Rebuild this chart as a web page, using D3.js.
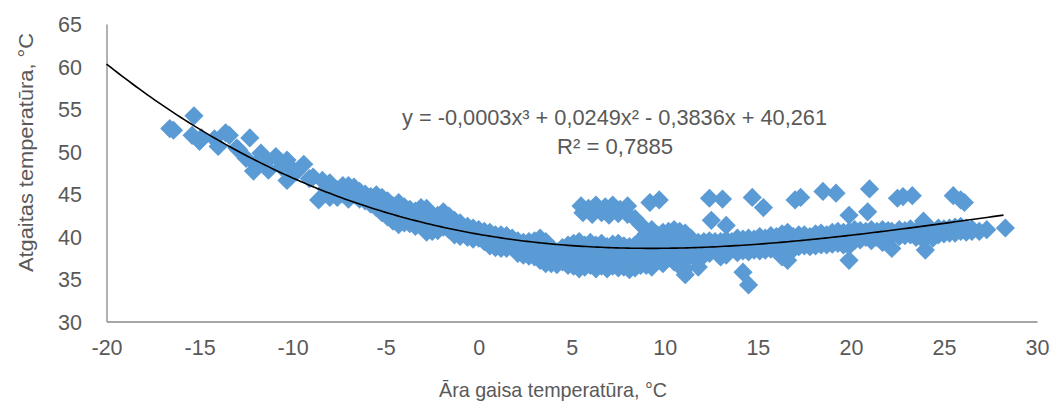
<!DOCTYPE html>
<html lang="lv">
<head>
<meta charset="UTF-8">
<title>Atgaitas temperatūra</title>
<style>
  body { margin: 0; background: #fff; }
  text { font-family: "Liberation Sans", Arial, sans-serif; fill: #595959; }
</style>
</head>
<body>
<div id="chart"></div>
<script src="https://d3js.org/d3.v7.min.js"></script>
<script>
// outdoor air temperature (x) vs return temperature (y)
const points = [
  [-16.6,52.7],[-16.4,52.5],[-15.3,54.2],[-15.4,51.9],[-15.0,51.2],[-14.9,51.6],[-14.2,51.5],[-14.0,50.6],
  [-13.6,52.2],[-13.4,51.9],[-13.0,50.4],[-12.9,50.2],[-12.3,51.6],[-12.5,49.2],[-12.1,47.7],[-12.0,48.5],
  [-11.7,49.8],[-11.5,48.6],[-11.3,47.8],[-10.9,49.4],[-10.6,48.2],[-10.3,49.0],[-10.3,46.6],[-10.0,47.9],
  [-9.8,47.6],[-9.4,48.5],[-9.1,46.8],[-8.9,47.0],[-8.6,44.3],[-8.4,46.6],[-8.2,45.6],
  [-8.0,46.3],[-8.0,45.4],[-8.0,44.6],[-7.6,45.5],[-7.6,44.6],[-7.3,46.0],[-7.3,45.0],
  [-7.0,46.0],[-7.0,45.2],[-7.0,44.4],[-6.7,45.8],[-6.7,44.9],[-6.4,45.3],[-6.4,44.4],[-6.1,45.0],[-6.1,44.2],
  [-5.8,44.7],[-5.8,43.8],[-5.5,44.9],[-5.5,44.1],[-5.5,43.4],[-5.2,44.6],[-5.2,43.7],[-5.2,42.8],
  [-4.9,44.2],[-4.9,43.2],[-4.9,42.3],[-4.6,43.6],[-4.6,42.6],[-4.6,41.8],[-4.3,44.0],[-4.3,43.0],[-4.3,42.0],[-4.3,41.4],
  [-4.0,43.5],[-4.0,42.6],[-4.0,41.6],[-3.7,43.2],[-3.7,42.4],[-3.7,41.5],[-3.4,43.0],[-3.4,42.2],[-3.4,41.2],
  [-3.1,43.4],[-3.1,42.5],[-3.1,41.4],[-2.8,43.3],[-2.8,42.4],[-2.8,41.3],[-2.8,40.5],[-2.5,42.5],[-2.5,41.7],[-2.5,40.6],
  [-2.2,42.5],[-2.2,41.5],[-2.2,40.7],[-1.9,42.9],[-1.9,42.0],[-1.9,41.1],[-1.6,42.4],[-1.6,41.5],[-1.6,40.8],
  [-1.3,41.9],[-1.3,41.0],[-1.3,40.2],[-1.0,41.6],[-1.0,40.7],[-1.0,40.0],[-0.6,41.2],[-0.6,40.4],[-0.6,39.9],
  [-0.3,41.0],[-0.3,40.2],[-0.3,39.7],[0.0,40.8],[0.0,40.0],[0.0,39.8],[0.3,40.6],[0.3,39.8],[0.3,39.4],
  [0.6,40.5],[0.6,39.6],[0.6,38.9],[0.9,40.2],[0.9,39.5],[0.9,38.7],[1.2,40.2],[1.2,39.4],[1.2,38.6],
  [1.5,40.1],[1.5,39.3],[1.5,38.6],[1.8,39.8],[1.8,38.9],[2.1,39.5],[2.1,38.7],[2.1,38.0],
  [2.4,39.3],[2.4,38.6],[2.4,37.8],[2.7,39.4],[2.7,38.5],[2.7,37.7],[3.0,39.5],[3.0,38.6],[3.0,37.6],
  [3.3,39.8],[3.3,38.8],[3.3,38.0],[3.3,37.2],[3.6,39.4],[3.6,38.5],[3.6,37.5],[3.6,36.8],
  [3.9,38.7],[3.9,37.8],[3.9,36.8],[4.2,38.2],[4.2,37.4],[4.2,36.7],[4.5,38.7],[4.5,37.8],[4.5,37.0],
  [4.8,39.0],[4.8,38.1],[4.8,37.2],[4.8,36.6],[5.1,39.2],[5.1,38.3],[5.1,37.4],[5.1,36.5],
  [5.4,39.4],[5.4,38.5],[5.4,37.6],[5.4,36.8],[5.4,36.2],[5.7,39.0],[5.7,38.0],[5.7,37.2],[5.7,36.4],
  [6.0,39.3],[6.0,38.4],[6.0,37.5],[6.0,36.6],[6.3,39.0],[6.3,38.0],[6.3,37.1],[6.3,36.2],
  [6.6,39.2],[6.6,38.3],[6.6,37.4],[6.6,36.5],[6.9,38.8],[6.9,37.9],[6.9,37.0],[6.9,36.2],
  [7.2,39.1],[7.2,38.2],[7.2,37.3],[7.2,36.5],[7.5,39.2],[7.5,38.2],[7.5,37.2],[7.5,36.3],
  [7.8,38.9],[7.8,38.0],[7.8,37.1],[7.8,36.4],[8.1,38.8],[8.1,37.8],[8.1,36.9],[8.1,36.1],
  [8.4,39.0],[8.4,38.1],[8.4,37.2],[8.4,36.3],[8.7,39.6],[8.7,38.6],[8.7,37.6],[8.7,36.6],
  [9.0,40.3],[9.0,39.4],[9.0,38.4],[9.0,37.4],[9.0,36.6],[9.3,40.8],[9.3,39.8],[9.3,38.8],[9.3,37.6],[9.3,36.4],
  [9.6,40.2],[9.6,39.2],[9.6,38.2],[9.6,37.2],[9.9,40.5],[9.9,39.5],[9.9,38.4],[9.9,37.4],[9.9,36.8],
  [10.2,40.6],[10.2,39.6],[10.2,38.6],[10.2,37.6],[10.5,40.8],[10.5,39.9],[10.5,38.9],[10.5,37.9],[10.5,37.0],
  [10.8,40.6],[10.8,39.5],[10.8,38.4],[10.8,37.4],[10.8,36.5],[11.1,40.4],[11.1,39.4],[11.1,38.3],[11.1,37.3],[11.1,36.2],[11.1,35.5],
  [11.4,39.8],[11.4,38.8],[11.4,37.8],[11.8,39.3],[11.8,38.4],[11.8,37.2],[11.8,36.4],
  [12.1,39.4],[12.1,38.6],[12.1,37.8],[12.4,39.5],[12.4,38.8],[12.4,38.0],[12.7,39.4],[12.7,38.6],
  [13.0,39.4],[13.0,38.3],[13.0,37.6],[13.3,39.6],[13.3,38.7],[13.3,37.8],[13.6,39.4],[13.6,38.6],
  [13.9,39.8],[13.9,38.9],[13.9,38.1],[14.2,39.7],[14.2,38.7],[14.2,38.3],[14.5,39.8],[14.5,38.9],[14.5,38.2],
  [14.8,39.7],[14.8,38.9],[14.8,38.4],[15.1,40.0],[15.1,39.1],[15.1,38.3],[15.4,39.8],[15.4,38.9],[15.4,38.4],
  [15.7,40.1],[15.7,39.2],[15.7,38.5],[16.0,40.0],[16.0,39.2],[16.0,38.4],[16.3,40.3],[16.3,39.4],[16.3,38.4],[16.3,37.6],
  [16.6,40.5],[16.6,39.6],[16.6,38.6],[16.6,37.2],[16.9,40.0],[16.9,39.3],[16.9,38.5],
  [17.2,40.2],[17.2,39.4],[17.2,38.8],[17.5,40.2],[17.5,39.5],[17.5,38.9],[17.8,40.0],[17.8,39.4],[17.8,38.8],
  [18.1,40.3],[18.1,39.5],[18.1,38.9],[18.4,40.4],[18.4,39.6],[18.4,39.0],[18.7,40.2],[18.7,39.5],[18.7,39.0],
  [19.0,40.5],[19.0,39.7],[19.0,39.1],[19.3,40.6],[19.3,39.8],[19.3,39.2],[19.6,40.5],[19.6,39.7],[19.6,39.0],
  [19.9,40.6],[19.9,39.8],[19.9,38.9],[19.9,37.2],[20.2,40.8],[20.2,40.0],[20.2,39.5],[20.5,40.7],[20.5,40.0],[20.5,39.6],
  [20.8,40.6],[20.8,39.9],[21.1,40.8],[21.1,40.1],[21.1,39.5],[21.4,40.6],[21.4,39.9],[21.7,40.8],[21.7,40.0],[21.7,39.3],
  [22.0,40.7],[22.0,39.6],[22.2,40.6],[22.2,38.6],[22.6,40.8],[22.6,40.0],[22.9,40.7],[22.9,40.1],
  [23.2,40.9],[23.2,40.2],[23.5,40.6],[23.5,39.9],[23.9,41.8],[23.9,40.8],[23.9,39.6],[24.1,40.4],[24.0,38.4],
  [24.4,40.7],[24.4,39.8],[24.7,41.0],[24.7,40.2],[25.0,40.9],[25.0,40.3],[25.3,41.0],[25.3,40.4],
  [25.6,41.1],[25.6,40.4],[25.9,41.2],[25.9,40.6],[26.2,41.0],[26.2,40.5],[26.5,40.9],[26.5,40.6],
  [26.9,40.6],[27.3,40.8],[28.3,41.0],
  // upper cluster around 5..10 °C
  [5.5,43.6],[5.9,43.3],[6.3,43.7],[6.8,43.5],[7.2,43.7],[7.6,43.2],[8.0,43.6],[5.6,42.8],[6.1,42.6],
  [6.6,42.8],[7.0,42.5],[7.5,42.7],[8.0,42.6],[8.4,42.1],[8.7,41.4],[9.2,44.0],[9.7,44.3],
  // scattered high / low values
  [12.4,44.5],[13.1,44.4],[14.7,44.6],[15.3,43.4],[17.0,44.3],[17.3,44.6],[18.5,45.3],[19.2,45.1],
  [19.9,42.5],[12.5,41.9],[13.3,41.3],[14.2,35.8],[14.5,34.3],[21.0,45.6],[20.9,42.9],
  [22.5,44.5],[22.8,44.7],[23.3,44.8],[25.5,44.8],[25.9,44.3],[26.1,44.0]
];

const xTicks = [-20, -15, -10, -5, 0, 5, 10, 15, 20, 25, 30];
const yTicks = [30, 35, 40, 45, 50, 55, 60, 65];
// polynomial trendline, order 3
const trendCoef = [40.261, -0.3836, 0.0249, -0.0003];
const equationText = "y = -0,0003x³ + 0,0249x² - 0,3836x + 40,261";
const r2Text = "R² = 0,7885";
const xTitle = "Āra gaisa temperatūra, °C";
const yTitle = "Atgaitas temperatūra, °C";

const width = 1052, height = 403;
const plotL = 106.5, plotR = 1037, plotT = 24, plotB = 321.5;

const svg = d3.select("#chart").append("svg")
  .attr("width", width)
  .attr("height", height);

const x = d3.scaleLinear().domain([-20, 30]).range([plotL, plotR]);
const y = d3.scaleLinear().domain([30, 65]).range([plotB, plotT]);

// axes: plain gray lines, no tick marks, hyphen as minus like Excel
const fmt = d => String(d);
const xAxis = svg.append("g")
  .attr("transform", `translate(0,${plotB})`)
  .call(d3.axisBottom(x).tickValues(xTicks).tickSize(0).tickPadding(18.5).tickFormat(fmt));
const yAxis = svg.append("g")
  .attr("transform", `translate(${plotL},0)`)
  .call(d3.axisLeft(y).tickValues(yTicks).tickSize(0).tickPadding(24.5).tickFormat(fmt));

[xAxis, yAxis].forEach(ax => {
  ax.select(".domain").attr("stroke", "#898989").attr("stroke-width", 1.3);
  ax.selectAll("text").style("font-size", "21.5px").attr("fill", "#595959")
    .style("font-family", "'Liberation Sans', Arial, sans-serif");
});
xAxis.selectAll("text").attr("dy", "0.71em");
yAxis.selectAll("text").attr("dy", "0.36em");

const rd = 9.6;
const diamond = `M0,${-rd}L${rd},0L0,${rd}L${-rd},0Z`;

svg.append("g")
  .selectAll("path")
  .data(points)
  .join("path")
  .attr("d", diamond)
  .attr("transform", d => `translate(${x(d[0])},${y(d[1])})`)
  .attr("fill", "#5b9bd5");

const poly = t => trendCoef.reduce((s, c, i) => s + c * Math.pow(t, i), 0);
const xMax = d3.max(points, d => d[0]);
const trendData = d3.range(-20, xMax + 0.001, 0.2);

svg.append("path")
  .datum(trendData)
  .attr("fill", "none")
  .attr("stroke", "#000")
  .attr("stroke-width", 1.6)
  .attr("d", d3.line().x(t => x(t)).y(t => y(poly(t))));

// trendline label
svg.append("text")
  .attr("x", 614.5).attr("y", 125)
  .attr("text-anchor", "middle")
  .attr("textLength", 425).attr("lengthAdjust", "spacingAndGlyphs")
  .style("font-size", "21.5px")
  .text(equationText);
svg.append("text")
  .attr("x", 615).attr("y", 154)
  .attr("text-anchor", "middle")
  .attr("textLength", 116).attr("lengthAdjust", "spacingAndGlyphs")
  .style("font-size", "21.5px")
  .text(r2Text);

svg.append("text")
  .attr("x", 553).attr("y", 397)
  .attr("text-anchor", "middle")
  .attr("textLength", 228).attr("lengthAdjust", "spacingAndGlyphs")
  .style("font-size", "21px")
  .text(xTitle);

svg.append("text")
  .attr("transform", "translate(33,152.5) rotate(-90)")
  .attr("text-anchor", "middle")
  .attr("textLength", 239).attr("lengthAdjust", "spacingAndGlyphs")
  .style("font-size", "21px")
  .text(yTitle);
</script>
</body>
</html>
